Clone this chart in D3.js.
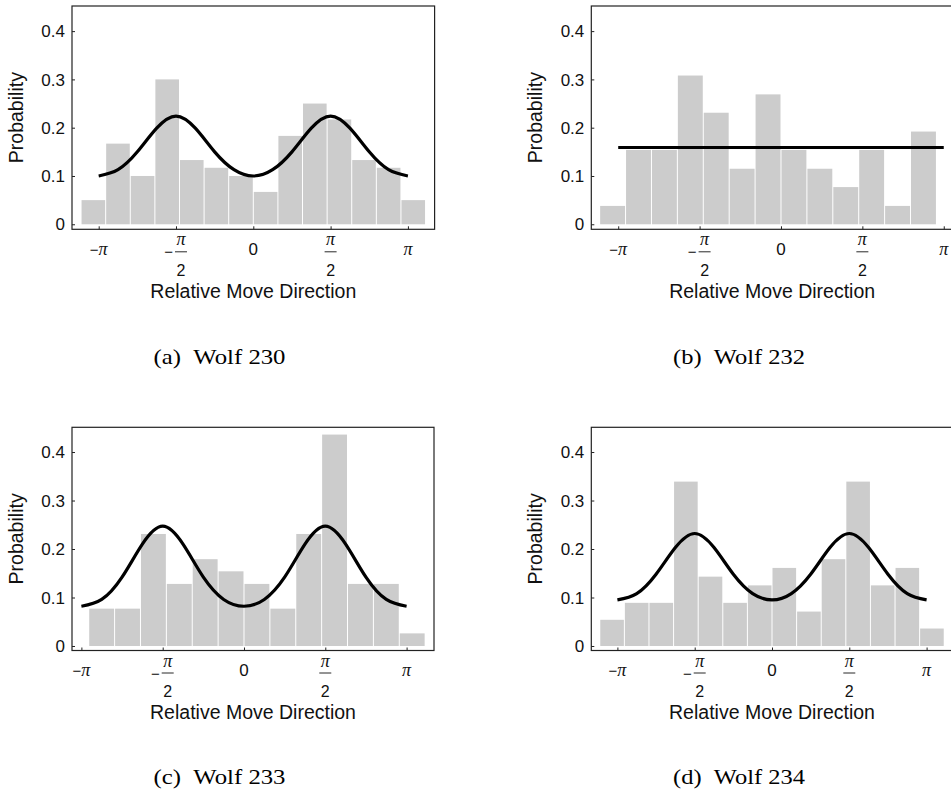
<!DOCTYPE html>
<html>
<head>
<meta charset="utf-8">
<script src="https://cdn.jsdelivr.net/npm/d3@7"></script>
<style>
  body { margin: 0; background: #fff; }
  svg { display: block; }
</style>
</head>
<body>
<script>
// histogram bins (width 0.5 rad), shared by all panels
var binStarts = [-3.5, -3.0, -2.5, -2.0, -1.5, -1.0, -0.5, 0.0, 0.5, 1.0, 1.5, 2.0, 2.5, 3.0];
var binWidth = 0.5;

// bar heights
var wolf230 = [0.050, 0.167, 0.100, 0.300, 0.133, 0.117, 0.100, 0.067, 0.183, 0.250, 0.217, 0.133, 0.117, 0.050];
var wolf232 = [0.038, 0.154, 0.154, 0.308, 0.231, 0.115, 0.269, 0.154, 0.115, 0.077, 0.154, 0.038, 0.192, 0];
var wolf233 = [0, 0.077, 0.077, 0.231, 0.128, 0.179, 0.154, 0.128, 0.077, 0.231, 0.436, 0.128, 0.128, 0.026];
var wolf234 = [0.054, 0.089, 0.089, 0.339, 0.143, 0.089, 0.125, 0.161, 0.071, 0.179, 0.339, 0.125, 0.161, 0.036];

// fitted curve, read at multiples of pi/8 from -pi to pi
var curveSteps = [-8, -7, -6, -5, -4, -3, -2, -1, 0, 1, 2, 3, 4, 5, 6, 7, 8];
var fit230 = [0.100, 0.113, 0.150, 0.199, 0.224, 0.199, 0.150, 0.113, 0.100, 0.113, 0.150, 0.199, 0.224, 0.199, 0.150, 0.113, 0.100];
var fit232 = [0.159, 0.159, 0.159, 0.159, 0.159, 0.159, 0.159, 0.159, 0.159, 0.159, 0.159, 0.159, 0.159, 0.159, 0.159, 0.159, 0.159];
var fit233 = [0.082, 0.096, 0.142, 0.210, 0.247, 0.210, 0.142, 0.096, 0.082, 0.096, 0.142, 0.210, 0.247, 0.210, 0.142, 0.096, 0.082];
var fit234 = [0.095, 0.108, 0.148, 0.203, 0.232, 0.203, 0.148, 0.108, 0.095, 0.108, 0.148, 0.203, 0.232, 0.203, 0.148, 0.108, 0.095];

// ticks
var yTicks = [0, 0.1, 0.2, 0.3, 0.4];
var yTickLabels = ['0', '0.1', '0.2', '0.3', '0.4'];
var xTicks = [-Math.PI, -Math.PI / 2, 0, Math.PI / 2, Math.PI];
// sign, numerator, denominator (null = not a fraction)
var xTickLabels = [['\u2212', '\u03c0', null], ['\u2212', '\u03c0', '2'], ['', '0', null], ['', '\u03c0', '2'], ['', '\u03c0', null]];

var captions = ['(a)\u2002Wolf 230', '(b)\u2002Wolf 232', '(c)\u2002Wolf 233', '(d)\u2002Wolf 234'];
var xTitle = 'Relative Move Direction';
var yTitle = 'Probability';

// panel layout (pixels) and axis ranges
var panels = [
  { bars: wolf230, fit: fit230, caption: captions[0], left: 72, right: 434.6, top: 6, bottom: 229.3, xdom: [-3.684, 3.684], ydom: [-0.0104, 0.452], capX: 219.5, capY: 364.3 },
  { bars: wolf232, fit: fit232, caption: captions[1], left: 591.3, right: 953, top: 6, bottom: 229.3, xdom: [-3.661, 3.32], ydom: [-0.0104, 0.452], capX: 739, capY: 364.3 },
  { bars: wolf233, fit: fit233, caption: captions[2], left: 72, right: 434, top: 427.3, bottom: 650.5, xdom: [-3.323, 3.671], ydom: [-0.0093, 0.451], capX: 219.5, capY: 784 },
  { bars: wolf234, fit: fit234, caption: captions[3], left: 591.3, right: 952.7, top: 427.3, bottom: 650.5, xdom: [-3.672, 3.672], ydom: [-0.0093, 0.451], capX: 739, capY: 784 }
];

var SANS = '"Liberation Sans", Arial, Helvetica, sans-serif';
var SERIF = '"Liberation Serif", "Times New Roman", serif';

var svg = d3.select('body').append('svg')
  .attr('width', 951)
  .attr('height', 797);

svg.append('rect').attr('width', 951).attr('height', 797).attr('fill', '#fff');

function drawPanel(p) {
  var g = svg.append('g');
  var x = d3.scaleLinear().domain(p.xdom).range([p.left, p.right]);
  var y = d3.scaleLinear().domain(p.ydom).range([p.bottom, p.top]);

  // bars
  var bins = binStarts.map(function(s, i) { return { x0: s, x1: s + binWidth, v: p.bars[i] }; })
    .filter(function(d) { return d.v > 0; });
  g.selectAll('rect.bar').data(bins).enter().append('rect')
    .attr('class', 'bar')
    .attr('x', function(d) { return x(d.x0) + 0.5; })
    .attr('width', function(d) { return x(d.x1) - x(d.x0) - 1; })
    .attr('y', function(d) { return y(d.v); })
    .attr('height', function(d) { return y(0) - y(d.v); })
    .attr('fill', '#cccccc');

  // fitted density
  var pts = curveSteps.map(function(k, i) { return [k * Math.PI / 8, p.fit[i]]; });
  g.append('path')
    .datum(pts)
    .attr('fill', 'none')
    .attr('stroke', '#000')
    .attr('stroke-width', 3.2)
    .attr('d', d3.line()
      .x(function(d) { return x(d[0]); })
      .y(function(d) { return y(d[1]); })
      .curve(d3.curveNatural));

  // frame
  g.append('rect')
    .attr('x', p.left).attr('y', p.top)
    .attr('width', p.right - p.left).attr('height', p.bottom - p.top)
    .attr('fill', 'none').attr('stroke', '#222').attr('stroke-width', 1.2);

  // y axis: ticks inside, labels outside
  var yAxis = d3.axisRight(y).tickValues(yTicks).tickSize(3).tickFormat('');
  var ya = g.append('g').attr('transform', 'translate(' + p.left + ',0)').call(yAxis);
  ya.select('.domain').remove();
  ya.selectAll('line').attr('stroke', '#222');
  g.selectAll('text.ylab').data(yTicks).enter().append('text')
    .attr('class', 'ylab')
    .attr('x', p.left - 7)
    .attr('y', function(d) { return y(d); })
    .attr('dy', '0.36em')
    .attr('text-anchor', 'end')
    .attr('font-family', SANS)
    .attr('font-size', 17)
    .attr('fill', '#111')
    .text(function(d, i) { return yTickLabels[i]; });

  // x axis: ticks inside
  var xAxis = d3.axisTop(x).tickValues(xTicks).tickSize(3).tickFormat('');
  var xa = g.append('g').attr('transform', 'translate(0,' + p.bottom + ')').call(xAxis);
  xa.select('.domain').remove();
  xa.selectAll('line').attr('stroke', '#222');

  var ay = p.bottom;
  xTicks.forEach(function(t, i) {
    var lab = xTickLabels[i], cx = x(t);
    if (lab[2] === null) {
      var tx = g.append('text')
        .attr('x', cx).attr('y', ay + 25.5)
        .attr('text-anchor', 'middle')
        .attr('fill', '#111');
      if (lab[1] === '0') {
        tx.attr('font-family', SANS).attr('font-size', 17).text('0');
      } else {
        tx.append('tspan').attr('font-family', SANS).attr('font-size', 15).text(lab[0]);
        tx.append('tspan').attr('font-family', SERIF).attr('font-style', 'italic').attr('font-size', 18).text(lab[1]);
      }
    } else {
      var fx = lab[0] ? cx + 5 : cx;
      if (lab[0]) {
        g.append('text')
          .attr('x', fx - 8).attr('y', ay + 28)
          .attr('text-anchor', 'end')
          .attr('font-family', SANS).attr('font-size', 15)
          .attr('fill', '#111')
          .text(lab[0]);
      }
      g.append('text')
        .attr('x', fx).attr('y', ay + 16)
        .attr('text-anchor', 'middle')
        .attr('font-family', SERIF).attr('font-style', 'italic').attr('font-size', 18)
        .attr('fill', '#111')
        .text(lab[1]);
      g.append('line')
        .attr('x1', fx - 6).attr('x2', fx + 6)
        .attr('y1', ay + 22.5).attr('y2', ay + 22.5)
        .attr('stroke', '#111').attr('stroke-width', 0.9);
      g.append('text')
        .attr('x', fx).attr('y', ay + 46.5)
        .attr('text-anchor', 'middle')
        .attr('font-family', SANS).attr('font-size', 16)
        .attr('fill', '#111')
        .text(lab[2]);
    }
  });

  // axis titles
  g.append('text')
    .attr('x', (p.left + p.right) / 2).attr('y', ay + 68.5)
    .attr('text-anchor', 'middle')
    .attr('font-family', SANS).attr('font-size', 19.5)
    .attr('fill', '#111')
    .text(xTitle);
  g.append('text')
    .attr('transform', 'translate(' + (p.left - 49) + ',' + ((p.top + p.bottom) / 2) + ') rotate(-90)')
    .attr('text-anchor', 'middle')
    .attr('font-family', SANS).attr('font-size', 19.5)
    .attr('fill', '#111')
    .text(yTitle);

  // caption
  svg.append('text')
    .attr('x', p.capX).attr('y', p.capY)
    .attr('text-anchor', 'middle')
    .attr('font-family', SERIF).attr('font-size', 21)
    .attr('textLength', 132).attr('lengthAdjust', 'spacingAndGlyphs')
    .attr('fill', '#000')
    .text(p.caption);
}

panels.forEach(drawPanel);
</script>
</body>
</html>
